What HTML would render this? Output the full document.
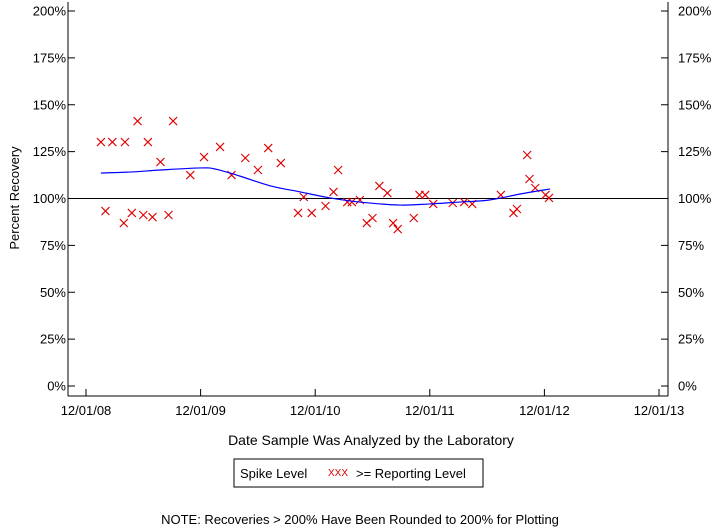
<!DOCTYPE html>
<html><head><meta charset="utf-8"><style>
body{margin:0;background:#fff;}
svg{display:block;font-family:"Liberation Sans",Arial,sans-serif;}
</style></head><body>
<svg id="chart" width="720" height="528">
<g id="axes"></g><g id="marks"></g>
<text x="371" y="445" font-size="14" text-anchor="middle">Date Sample Was Analyzed by the Laboratory</text>
<text transform="translate(19,198) rotate(-90)" font-size="13" text-anchor="middle">Percent Recovery</text>
<g>
<rect x="234" y="459" width="249" height="28" fill="#fff" stroke="#000"/>
<text x="240" y="478" font-size="13">Spike Level</text>
<text x="328" y="476" font-size="10" fill="#e00000">XXX</text>
<text x="356" y="478" font-size="13">&gt;= Reporting Level</text>
</g>
<text x="360" y="524" font-size="13" text-anchor="middle">NOTE: Recoveries &gt; 200% Have Been Rounded to 200% for Plotting</text>
</svg>
<script>
const yTicks=[0,25,50,75,100,125,150,175,200];
const xTickLabels=["12/01/08","12/01/09","12/01/10","12/01/11","12/01/12","12/01/13"];
const sampleYears=[0.13,0.23,0.34,0.45,0.54,0.76,0.17,0.33,0.40,0.50,0.58,0.65,0.72,0.91,1.03,1.17,1.27,1.39,1.50,1.59,1.70,1.85,1.90,1.97,2.09,2.16,2.20,2.28,2.32,2.39,2.45,2.50,2.56,2.63,2.68,2.72,2.86,2.91,2.96,3.03,3.20,3.30,3.37,3.62,3.73,3.76,3.85,3.87,3.92,4.01,4.04];
const recoveries=[130.1,130.1,130.1,141.3,130.1,141.3,93.3,86.9,92.3,91.2,90.1,119.5,91.2,112.5,122.1,127.5,112.5,121.6,115.2,126.9,118.9,92.3,100.8,92.3,96,103.5,115.2,98.1,98.1,99.2,86.9,89.6,106.7,102.9,86.9,83.7,89.6,101.9,101.9,97.1,97.6,98.1,97.1,101.9,92.3,94.4,123.2,110.4,105.6,101.9,100.3];
const trendYears=[0.13,0.38,0.65,1.0,1.13,1.34,1.61,1.87,2.13,2.39,2.74,3.0,3.26,3.52,3.79,4.05];
const trendValues=[113.6,114.1,115.2,116.3,115.7,112,106.7,103.5,100.3,98.1,96.5,97.1,98.1,99.2,102.4,105.1];
const NS="http://www.w3.org/2000/svg";
const X=t=>86+t*114.6, Y=v=>386-v*1.875;
function mk(tag,attrs,parent){const e=document.createElementNS(NS,tag);for(const k in attrs)e.setAttribute(k,attrs[k]);parent.appendChild(e);return e;}
const axes=document.getElementById('axes'), marks=document.getElementById('marks');
let e;
e=mk('line',{x1:68,y1:2,x2:68,y2:396,stroke:'#000'},axes);


e=mk('line',{x1:668,y1:2,x2:668,y2:396,stroke:'#000'},axes);


e=mk('line',{x1:68,y1:396,x2:668,y2:396,stroke:'#000'},axes);


yTicks.forEach(v=>{const y=Y(v);
 mk('line',{x1:68,y1:y,x2:75,y2:y,stroke:'#000'},axes);
 mk('line',{x1:661,y1:y,x2:668,y2:y,stroke:'#000'},axes);
 e=mk('text',{x:66,y:y+4.5,'font-size':13,'text-anchor':'end'},axes);e.textContent=v+'%';
 
 
 e=mk('text',{x:678,y:y+4.5,'font-size':13},axes);e.textContent=v+'%';
 
 
});
e=mk('line',{x1:68,y1:Y(100),x2:668,y2:Y(100),stroke:'#000'},axes);


xTickLabels.forEach((l,i)=>{const x=X(i);
 mk('line',{x1:x,y1:389,x2:x,y2:396,stroke:'#000'},axes);
 e=mk('text',{x:x,y:415,'font-size':13,'text-anchor':'middle'},axes);e.textContent=l;
 
 
});
sampleYears.forEach((t,i)=>{const x=X(t),y=Y(recoveries[i]);
 e=mk('path',{d:`M${x-4},${y-4}L${x+4},${y+4}M${x+4},${y-4}L${x-4},${y+4}`,stroke:'#e00000','stroke-width':1.1,fill:'none'},marks);
 
 
});
let d='';
const P=trendYears.map((t,i)=>[X(t),Y(trendValues[i])]);
d='M'+P[0][0]+','+P[0][1];
for(let i=0;i<P.length-1;i++){const p0=P[Math.max(i-1,0)],p1=P[i],p2=P[i+1],p3=P[Math.min(i+2,P.length-1)];
 d+=`C${p1[0]+(p2[0]-p0[0])/6},${p1[1]+(p2[1]-p0[1])/6} ${p2[0]-(p3[0]-p1[0])/6},${p2[1]-(p3[1]-p1[1])/6} ${p2[0]},${p2[1]}`;}
e=mk('path',{d:d,stroke:'#0000ff','stroke-width':1.2,fill:'none'},marks);


</script>
</body></html>
